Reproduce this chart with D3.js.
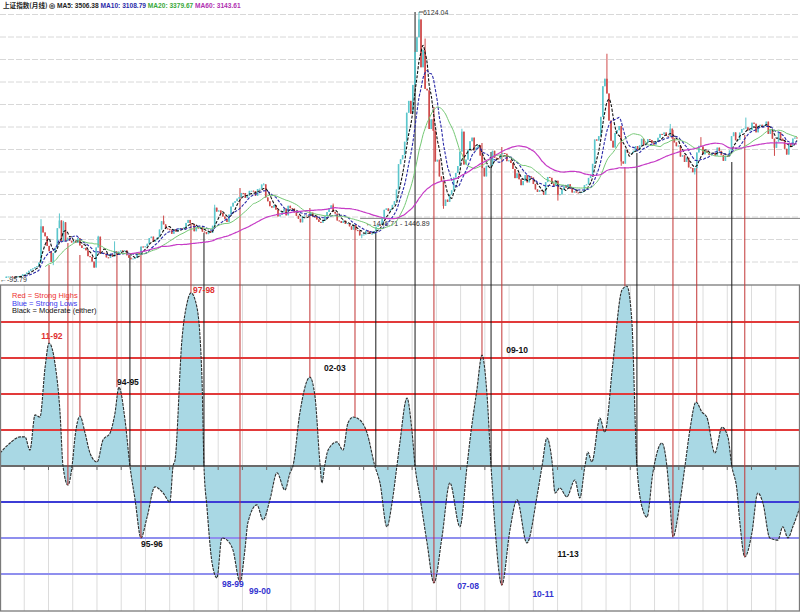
<!DOCTYPE html>
<html><head><meta charset="utf-8">
<script src="https://cdn.jsdelivr.net/npm/d3@7"></script>
<style>body{margin:0;background:#fff}svg{display:block}text{font-family:"Liberation Sans",Arial,sans-serif}</style>
</head><body>
<svg id="c" width="800" height="614"></svg>
<script>
// ---------- DATA ----------
const firstMonth = 1990 + 11/12;   // Dec 1990
const firstOpen = 96.05;
// Monthly closes, Dec 1990 .. Mar 2023
const closes = [127.61,
129.97,133.01,120.19,113.94,114.83,137.56,143.79,178.43,180.92,218.60,259.60,292.75,
313.24,341.04,364.24,445.64,1266.49,1127.88,1041.38,823.27,703.89,461.79,661.56,780.39,
1224.27,1400.31,925.91,1358.78,935.00,1007.85,939.38,900.47,937.90,890.50,1000.20,833.80,
776.75,778.36,724.09,590.37,569.62,467.86,333.92,787.36,1032.52,644.22,665.43,647.87,
563.40,549.28,643.85,579.20,700.51,630.58,694.77,721.21,701.93,721.62,611.25,555.29,
537.35,538.39,547.68,664.40,640.65,808.31,795.08,814.83,871.95,1000.15,1033.22,917.02,
964.17,1019.88,1193.82,1383.01,1310.73,1218.32,1208.47,1178.49,1097.40,1200.61,1149.35,1194.10,
1223.03,1207.81,1243.38,1343.44,1411.52,1339.20,1315.49,1155.00,1242.89,1217.29,1248.20,1146.70,
1134.67,1090.09,1158.05,1120.44,1279.32,1689.42,1601.23,1627.01,1570.79,1489.58,1437.65,1366.58,
1534.99,1714.58,1800.22,1836.32,1894.55,1928.11,2023.17,2022.17,1910.16,1961.28,2070.60,2073.48,
2065.47,1959.18,2112.77,2119.18,2214.25,2218.03,1920.32,1834.21,1723.13,1690.56,1747.39,1645.97,
1491.09,1524.74,1603.99,1667.75,1515.73,1732.78,1678.58,1669.39,1581.62,1505.27,1437.13,1357.65,
1499.81,1511.93,1510.06,1521.44,1576.36,1486.79,1476.74,1421.26,1367.16,1348.30,1397.22,1497.04,
1590.73,1675.07,1741.62,1595.59,1555.91,1399.16,1386.20,1342.06,1396.70,1320.54,1340.77,1266.50,
1191.82,1306.00,1181.24,1159.15,1060.74,1080.94,1083.03,1162.80,1155.61,1092.82,1099.26,1161.06,
1258.05,1299.03,1298.30,1440.22,1641.30,1672.21,1612.73,1658.64,1752.42,1837.99,2099.29,2675.47,
2786.34,2881.07,3183.98,3841.27,4109.65,3820.70,4471.03,5218.82,5552.30,5954.77,4871.78,5261.56,
4383.39,4348.54,3472.71,3693.11,3433.35,2736.10,2775.72,2397.37,2293.78,1728.79,1871.16,1820.81,
1990.66,2082.85,2373.21,2477.57,2632.93,2959.36,3412.06,2667.74,2779.43,2995.85,3195.30,3277.14,
2989.29,3051.94,3109.10,2870.61,2592.15,2398.37,2637.50,2638.80,2655.66,2978.83,2820.18,2808.08,
2790.69,2905.05,2928.11,2911.51,2743.47,2762.08,2701.73,2567.34,2359.22,2468.25,2333.41,2199.42,
2292.61,2428.49,2262.79,2396.32,2372.23,2225.43,2103.63,2047.52,2086.17,2068.88,1980.12,2269.13,
2385.42,2365.59,2236.62,2177.91,2300.59,1979.21,1993.80,2098.38,2174.67,2141.61,2220.50,2115.98,
2033.08,2056.30,2033.31,2026.36,2039.21,2048.33,2201.56,2217.20,2363.87,2420.18,2682.84,3234.68,
3210.36,3310.30,3747.90,4441.66,4611.74,4277.22,3663.73,3205.99,3052.78,3382.56,3445.40,3539.18,
2737.60,2687.98,3003.92,2938.32,2916.62,2929.61,2979.34,3085.49,3004.70,3100.49,3250.03,3103.64,
3159.17,3241.73,3222.51,3154.66,3117.18,3192.43,3273.03,3360.81,3348.94,3393.34,3317.19,3307.17,
3480.83,3259.41,3168.90,3082.23,3095.47,2847.42,2876.40,2725.25,2821.35,2602.78,2588.19,2493.90,
2584.57,2940.95,3090.76,3078.34,2898.70,2978.88,2932.51,2886.24,2905.19,2929.06,2871.98,3050.12,
2976.53,2880.30,2750.30,2860.08,2852.35,2984.67,3310.01,3395.68,3218.05,3224.53,3391.76,3473.07,
3483.07,3509.08,3441.91,3446.86,3615.48,3591.20,3397.36,3543.94,3568.17,3547.34,3563.89,3639.78,
3361.44,3462.31,3252.20,3047.06,3186.43,3398.62,3253.24,3202.14,3024.39,2893.48,3151.34,3089.26,
3255.67,3279.61,3272.86];
// notable monthly extremes (wicks)
const highMarks = [["1992-05",1429.01],["1993-02",1558.95],["1993-04",1392.0],["1994-09",1052.94],["1995-05",926.41],
  ["1997-05",1510.18],["1999-06",1756.18],["2001-06",2245.44],["2004-04",1783.01],["2007-10",6124.04],
  ["2008-01",5522.78],["2009-07",3478.01],["2015-06",5178.19],["2018-01",3587.03],["2019-04",3288.45],["2021-02",3731.69]];
const lowMarks = [["1992-11",386.85],["1994-07",325.89],["1996-01",512.83],["2005-06",998.23],["2008-10",1664.93],
  ["2013-06",1849.65],["2016-01",2638.30],["2019-01",2440.91],["2022-04",2863.65]];

const maPeriods = [5, 10, 20, 60];
const maNames = ["MA5", "MA10", "MA20", "MA60"];
const maReadings = ["3506.38", "3108.79", "3379.67", "3143.61"];
const titleText = "上证指数(月线)";

// Cycle oscillator [decimal year, value]
const oscillator = [
[1990.66,0.36],[1991.07,0.64],[1991.48,0.81],[1991.68,0.81],[1991.88,0.44],[1992.09,1.42],[1992.29,1.36],[1992.50,2.75],[1992.66,3.42],[1992.90,2.86],[1993.11,1.47],[1993.23,0],[1993.43,-0.53],[1993.60,0],[1993.72,0.81],[1993.92,1.39],[1994.13,0.92],[1994.33,0.36],[1994.62,0.11],[1994.86,0.72],[1995.15,0.92],[1995.35,1.47],[1995.51,2.19],[1995.76,1.28],[1995.96,0],[1996.17,-0.94],[1996.41,-2.0],[1996.66,-1.42],[1996.98,-0.58],[1997.31,-0.75],[1997.59,-1.0],[1997.72,0],[1997.80,0.17],[1998.08,3.5],[1998.29,4.53],[1998.45,4.81],[1998.69,4.42],[1998.90,2.39],[1998.98,0],[1999.10,-1.14],[1999.31,-2.69],[1999.51,-3.11],[1999.71,-2.0],[1999.92,-2.06],[2000.16,-2.33],[2000.45,-3.22],[2000.65,-2.33],[2000.77,-1.58],[2001.14,-1.08],[2001.39,-1.5],[2001.67,-0.94],[2001.96,-0.19],[2002.28,-0.67],[2002.49,-0.19],[2002.61,0],[2002.89,1.47],[2003.30,2.47],[2003.51,1.92],[2003.71,0.08],[2003.79,-0.47],[2003.91,0.03],[2004.04,0.44],[2004.40,0.67],[2004.65,0.44],[2004.85,1.19],[2005.06,1.36],[2005.34,1.28],[2005.63,0.92],[2005.95,0],[2006.16,-0.47],[2006.44,-1.69],[2006.65,-1.03],[2006.85,0],[2006.97,0.64],[2007.26,1.89],[2007.46,1.0],[2007.59,0],[2007.79,-0.86],[2008.08,-2.14],[2008.36,-3.25],[2008.69,-1.97],[2009.01,-0.47],[2009.42,-1.69],[2009.71,0],[2009.83,0.72],[2010.11,2.11],[2010.32,3.08],[2010.52,2.03],[2010.69,0],[2010.85,-1.69],[2011.13,-3.31],[2011.46,-1.78],[2011.75,-0.94],[2012.15,-2.14],[2012.56,-0.86],[2012.77,0],[2012.97,0.78],[2013.17,0.17],[2013.30,-0.75],[2013.50,-0.61],[2013.78,-0.86],[2014.11,-0.39],[2014.31,-0.89],[2014.52,0],[2014.64,0.39],[2014.80,0.11],[2015.13,1.33],[2015.33,0.94],[2015.66,2.86],[2016.03,4.89],[2016.23,5.0],[2016.43,4.06],[2016.64,0],[2016.88,-1.22],[2017.05,-1.42],[2017.29,-0.19],[2017.66,0.64],[2017.86,0],[2017.98,-0.94],[2018.11,-1.97],[2018.39,-1.03],[2018.60,0],[2018.80,1.0],[2019.05,1.78],[2019.29,1.5],[2019.49,1.36],[2019.82,0.36],[2020.11,1.08],[2020.35,0.81],[2020.51,0],[2020.72,-0.67],[2020.84,-1.58],[2021.04,-2.53],[2021.33,-1.86],[2021.57,-0.75],[2021.78,-1.03],[2022.06,-2.0],[2022.39,-2.06],[2022.59,-1.69],[2022.80,-2.0],[2023.00,-1.69],[2023.29,-1.14]];

const strongHighLevels = [1, 2, 3, 4];
const strongLowLevels = [-1, -2, -3];

// Signals linking price and oscillator extremes
const signalTimes  = [1992.66,1993.43,1993.92,1995.43,1995.96,1996.41,1998.45,1998.98,2000.45,2003.30,2005.14,2005.99,2007.59,2008.36,2010.32,2010.69,2011.13,2016.15,2016.64,2018.11,2019.08,2020.51,2021.04];
const signalPrices = [390,889,617,662,617,798,1342,1116,2135,1682,1251,1116,6124,3971,3155,2951,3064,2611,2928,3449,2611,2724,3337];
const signalOsc    = [3.42,-0.53,1.39,2.19,0,-2.0,4.81,0,-3.22,2.47,1.36,0,0,-3.25,3.08,0,-3.31,5.0,0,-1.97,1.78,0,-2.53];
const signalKinds  = ["s","s","s","s","m","s","s","m","s","s","s","m","m","s","s","m","s","s","m","s","s","m","s"];

// Cycle labels [text, year, value, kind]
const cycleLabels = [["11-92",1992.78,3.53,"high"],["94-95",1995.88,2.25,"mod"],["97-98",1998.98,4.81,"high"],
  ["02-03",2004.32,2.64,"mod"],["09-10",2011.75,3.14,"mod"],["95-96",1996.86,-2.25,"mod"],["98-99",2000.16,-3.36,"low"],
  ["99-00",2001.26,-3.56,"low"],["07-08",2009.75,-3.42,"low"],["10-11",2012.81,-3.64,"low"],["11-13",2013.83,-2.53,"mod"]];
const legendLines = [["Red = Strong Highs","high"],["Blue = Strong Lows","low"],["Black = Moderate (either)","mod"]];
const priceLow = 95.79, priceHigh = 6124.04, refLow = 1446.71, refHigh = 1446.89;

// ---------- CHART ----------
const W = 800, H = 614;
const svg = d3.select("#c");
const x = d3.scaleLinear().domain([1990.660, 2023.292]).range([0, W]);
const yP = d3.scaleLinear().domain([priceLow, priceHigh]).range([278, 12]);
const yO = d3.scaleLinear().domain([-4.03, 5.03]).range([611, 285]);
const monthT = i => firstMonth + i / 12;
const keyIdx = k => { const [yy, mm] = k.split("-").map(Number); return Math.round((yy + (mm - 1) / 12 - firstMonth) * 12); };
const hiMap = new Map(highMarks.map(([k, v]) => [keyIdx(k), v]));
const loMap = new Map(lowMarks.map(([k, v]) => [keyIdx(k), v]));
const candles = closes.map((c, i) => {
  const o = i === 0 ? firstOpen : closes[i - 1];
  return { t: monthT(i), o, c, h: Math.max(o, c, hiMap.get(i) || 0), l: Math.min(o, c, loMap.get(i) || 1e9) };
});

const colHigh = "#e23a3a", colLow1 = "#3c3cd6", colLow2 = "#8f8fee";
const labelCol = { high: "#e03030", low: "#3434d0", mod: "#111" };

// upper panel grid
const gUp = svg.append("g");
gUp.selectAll("line.hg").data(d3.range(12)).join("line")
  .attr("x1", 0).attr("x2", W).attr("y1", i => 14.5 + i * 22.5).attr("y2", i => 14.5 + i * 22.5)
  .attr("stroke", "#d8d8d8").attr("stroke-width", 1).attr("stroke-dasharray", "6,2");
gUp.append("line").attr("x1", x(2005.35)).attr("x2", W).attr("y1", yP(refHigh)).attr("y2", yP(refHigh))
  .attr("stroke", "#808080").attr("stroke-width", 1);
gUp.append("text").attr("x", x(2005.58)).attr("y", yP(refHigh) + 8).attr("font-size", 7).attr("fill", "#333")
  .text(`←${refLow} - ${refHigh}`);

// lower panel
const gLo = svg.append("g");
gLo.append("rect").attr("x", 0.5).attr("y", yO(5.03)).attr("width", W - 1).attr("height", yO(-4.03) - yO(5.03))
  .attr("fill", "#fff");
gLo.append("clipPath").attr("id", "clipLo").append("rect").attr("x", 0).attr("y", yO(5.03)).attr("width", W).attr("height", yO(-4.03) - yO(5.03));
gLo.selectAll("line.vg").data(d3.range(1, 33)).join("line")
  .attr("x1", k => k * W / 33).attr("x2", k => k * W / 33).attr("y1", yO(5.03)).attr("y2", yO(-4.03))
  .attr("stroke", "#dcdcdc").attr("stroke-width", 1);

const area = d3.area().x(d => x(d[0])).y0(yO(0)).y1(d => yO(d[1])).curve(d3.curveMonotoneX);
const line = d3.line().x(d => x(d[0])).y(d => yO(d[1])).curve(d3.curveMonotoneX);
const gClip = gLo.append("g").attr("clip-path", "url(#clipLo)");
gClip.append("path").datum(oscillator).attr("d", area).attr("fill", "#a9d8e4");

gClip.selectAll("line.rh").data(strongHighLevels).join("line")
  .attr("x1", 0).attr("x2", W).attr("y1", d => yO(d)).attr("y2", d => yO(d))
  .attr("stroke", colHigh).attr("stroke-width", 2);
gClip.selectAll("line.bh").data(strongLowLevels).join("line")
  .attr("x1", 0).attr("x2", W).attr("y1", d => yO(d)).attr("y2", d => yO(d))
  .attr("stroke", (d, i) => i === 0 ? colLow1 : colLow2).attr("stroke-width", 2);
gClip.append("line").attr("x1", 0).attr("x2", W).attr("y1", yO(0)).attr("y2", yO(0))
  .attr("stroke", "#6a6a6a").attr("stroke-width", 2);
gClip.selectAll("line.tk").data(d3.range(1, 33)).join("line")
  .attr("x1", k => k * W / 33).attr("x2", k => k * W / 33).attr("y1", yO(0)).attr("y2", yO(0) + 4)
  .attr("stroke", "#6a6a6a").attr("stroke-width", 1);

// signal lines
const signals = signalTimes.map((t, i) => ({ t, p: signalPrices[i], v: signalOsc[i], k: signalKinds[i] }));
svg.append("g").selectAll("line").data(signals).join("line")
  .attr("x1", d => x(d.t)).attr("x2", d => x(d.t))
  .attr("y1", d => yP(d.p)).attr("y2", d => yO(d.v))
  .attr("stroke", d => d.k === "s" ? "#c23535" : "#1a1a1a").attr("stroke-width", 1);

gClip.append("path").datum(oscillator).attr("d", line).attr("fill", "none")
  .attr("stroke", "#2e2e2e").attr("stroke-width", 1.1).attr("stroke-dasharray", "3,1");

gLo.append("rect").attr("x", 0.5).attr("y", yO(5.03)).attr("width", W - 1).attr("height", yO(-4.03) - yO(5.03))
  .attr("fill", "none").attr("stroke", "#7a7a7a").attr("stroke-width", 1.3);

// candles
const gC = svg.append("g");
gC.selectAll("line.w").data(candles).join("line")
  .attr("x1", d => x(d.t)).attr("x2", d => x(d.t)).attr("y1", d => yP(d.h)).attr("y2", d => yP(d.l))
  .attr("stroke", d => d.c >= d.o ? "#5cc6cc" : "#cf4b4b").attr("stroke-width", 1);
gC.selectAll("rect").data(candles).join("rect")
  .attr("x", d => x(d.t) - 0.8).attr("width", 1.6)
  .attr("y", d => yP(Math.max(d.o, d.c))).attr("height", d => Math.max(1, Math.abs(yP(d.o) - yP(d.c))))
  .attr("fill", d => d.c >= d.o ? "#5cc6cc" : "#cf4b4b");

// moving averages
const maStyles = [
  { stroke: "#111", width: 1.1, dash: "3,1.5" },
  { stroke: "#2a2aa8", width: 1.1, dash: "3,1.5" },
  { stroke: "#74c874", width: 1, dash: null },
  { stroke: "#c63cc6", width: 1.2, dash: null }];
maPeriods.forEach((n, j) => {
  const pts = closes.map((c, i) => i < n - 1 ? null : [monthT(i), d3.mean(closes.slice(i - n + 1, i + 1))]).filter(Boolean);
  svg.append("path").datum(pts)
    .attr("d", d3.line().x(d => x(d[0])).y(d => yP(d[1])).curve(d3.curveMonotoneX))
    .attr("fill", "none").attr("stroke", maStyles[j].stroke).attr("stroke-width", maStyles[j].width)
    .attr("stroke-dasharray", maStyles[j].dash);
});

// price annotations
const peakIdx = d3.maxIndex(candles, d => d.h);
svg.append("line").attr("x1", x(candles[peakIdx].t)).attr("x2", x(candles[peakIdx].t) + 4)
  .attr("y1", yP(priceHigh)).attr("y2", yP(priceHigh)).attr("stroke", "#444");
svg.append("text").attr("x", x(candles[peakIdx].t) + 4).attr("y", yP(priceHigh) + 2.5).attr("font-size", 7).attr("fill", "#333")
  .text(priceHigh.toFixed(2));
svg.append("text").attr("x", 0).attr("y", yP(priceLow) + 4).attr("font-size", 7).attr("fill", "#333").text(`←-${priceLow}`);

// header
const hdr = svg.append("text").attr("x", 3).attr("y", 8).attr("font-size", 6.6).attr("font-weight", "bold");
hdr.append("tspan").attr("fill", "#222").attr("font-family", "Noto Sans CJK SC").text(titleText + " ");
hdr.append("tspan").attr("fill", "#222").text("◎ ");
const hdrCols = ["#222", "#2a2aa8", "#3aa83a", "#b030b0"];
maNames.forEach((m, j) => hdr.append("tspan").attr("fill", hdrCols[j]).text(`${m}: ${maReadings[j]}   `));

// legend
legendLines.forEach(([t, k], i) => svg.append("text").attr("x", 12).attr("y", yO(5.03) + 13 + i * 7.5)
  .attr("font-size", 7.5).attr("fill", k === "high" ? "#ee3030" : k === "low" ? "#3a3aee" : "#111").text(t));

// cycle labels
svg.append("g").selectAll("text").data(cycleLabels).join("text")
  .attr("x", d => x(d[1])).attr("y", d => yO(d[2])).attr("text-anchor", "middle")
  .attr("font-size", 8.5).attr("font-weight", "bold").attr("fill", d => labelCol[d[3]]).text(d => d[0]);
</script>
</body></html>
